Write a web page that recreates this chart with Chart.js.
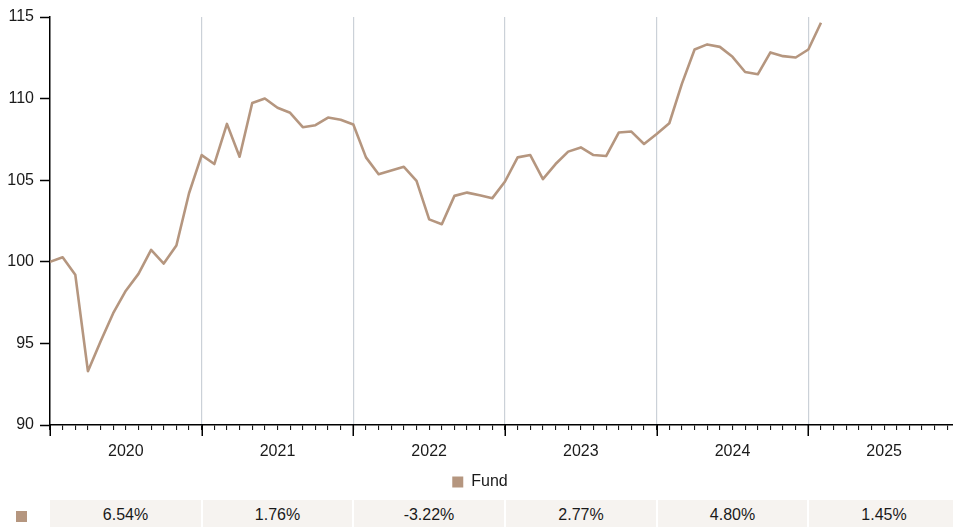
<!DOCTYPE html>
<html><head><meta charset="utf-8">
<script src="https://cdn.jsdelivr.net/npm/chart.js@4"></script>
<style>
html,body{margin:0;padding:0;background:#fff;overflow:hidden;width:953px;height:527px;}
#wrap{position:relative;width:960px;height:527px;overflow:hidden;}
#c{position:absolute;left:0;top:0;}
#tbl{position:absolute;left:0;top:500px;height:30px;width:960px;font-family:"Liberation Sans",Arial,sans-serif;font-size:16px;color:#1a1a1a;}
.cell{position:absolute;top:0;height:30px;line-height:30px;background:#f6f3f0;text-align:center;}
.sw{position:absolute;left:16px;top:11px;width:11px;height:11px;}
</style></head>
<body><div id="wrap"><canvas id="c" width="960" height="500"></canvas><div id="tbl"></div></div>
<script>
const yearLabels = ['2020','2021','2022','2023','2024','2025'];
const annualReturns = ['6.54%','1.76%','-3.22%','2.77%','4.80%','1.45%'];
const seriesName = 'Fund';
const fundValues = [
  100.00,100.28,99.21,93.30,95.11,96.85,98.23,99.26,100.73,99.89,101.00,104.20,
  106.54,105.99,108.45,106.44,109.73,110.01,109.44,109.13,108.25,108.37,108.84,108.70,
  108.41,106.40,105.37,105.60,105.82,104.96,102.60,102.30,104.04,104.24,104.08,103.90,
  104.92,106.40,106.54,105.07,105.99,106.75,107.01,106.54,106.48,107.92,107.98,107.22,
  107.83,108.49,110.92,113.01,113.32,113.17,112.56,111.63,111.49,112.83,112.60,112.52,
  113.01,114.65
];
const yTicks = [90,95,100,105,110,115];
const monthsPerYear = 12;

const LINE = '#b5967f';
const FONT = '"Liberation Sans", Arial, sans-serif';
const totalMonths = yearLabels.length * monthsPerYear;

const majorTicks = {
  id: 'majorTicks',
  afterDraw(chart) {
    const x = chart.scales.x, ctx = chart.ctx, b = chart.chartArea.bottom;
    ctx.save();
    ctx.strokeStyle = '#000';
    ctx.lineWidth = 1.5;
    for (let v = 0; v <= totalMonths; v += monthsPerYear) {
      const px = Math.round(x.getPixelForValue(v)) + 0.25;
      ctx.beginPath();
      ctx.moveTo(px, b);
      ctx.lineTo(px, b + 11);
      ctx.stroke();
    }
    ctx.restore();
  }
};

const chart = new Chart(document.getElementById('c'), {
  type: 'line',
  data: {
    datasets: [{
      label: seriesName,
      data: fundValues.map((v, i) => ({x: i, y: v})),
      borderColor: LINE,
      backgroundColor: LINE,
      borderWidth: 2.6,
      pointRadius: 0,
      tension: 0,
      borderJoinStyle: 'round'
    }]
  },
  options: {
    responsive: false,
    animation: false,
    devicePixelRatio: 1,
    layout: {padding: {top: 17, right: 0, left: 0, bottom: 0}},
    plugins: {
      tooltip: {enabled: false},
      legend: {
        position: 'bottom',
        labels: {
          boxWidth: 11, boxHeight: 11, padding: 14,
          font: {family: FONT, size: 16}, color: '#1a1a1a',
          generateLabels: (ch) => ch.data.datasets.map((d, i) => ({
            text: d.label, fillStyle: d.borderColor, strokeStyle: d.borderColor,
            lineWidth: 0, hidden: false, datasetIndex: i, fontColor: '#1a1a1a'
          }))
        }
      }
    },
    scales: {
      x: {
        type: 'linear', min: 0, max: totalMonths,
        afterBuildTicks: (s) => { s.ticks = Array.from({length: totalMonths + 1}, (_, i) => ({value: i})); },
        afterFit: (s) => { s.height = 35; s.paddingLeft = 0; s.paddingRight = 0; },
        ticks: {
          autoSkip: false, maxRotation: 0, padding: 12,
          font: {family: FONT, size: 16}, color: '#1a1a1a',
          callback: (v) => (v % monthsPerYear === monthsPerYear / 2) ? yearLabels[(v - monthsPerYear / 2) / monthsPerYear] : ''
        },
        grid: {
          drawOnChartArea: true,
          color: (c) => (c.tick && c.tick.value % monthsPerYear === 0 && c.tick.value > 0 && c.tick.value < totalMonths) ? '#cbd1d8' : 'rgba(0,0,0,0)',
          lineWidth: 1.2,
          tickColor: '#000',
          tickWidth: 1,
          tickLength: 5
        },
        border: {color: '#000', width: 1.5}
      },
      y: {
        min: 90, max: 115,
        afterBuildTicks: (s) => { s.ticks = yTicks.map(v => ({value: v})); },
        afterFit: (s) => { s.width = 50; },
        ticks: {font: {family: FONT, size: 16}, color: '#1a1a1a', padding: 6},
        grid: {drawOnChartArea: false, tickColor: '#000', tickLength: 10, tickWidth: 1.5},
        border: {color: '#000', width: 1.5}
      }
    }
  },
  plugins: [majorTicks]
});

// summary table under the chart, aligned with the year boundaries of the x scale
const xs = chart.scales.x;
const tbl = document.getElementById('tbl');
const sw = document.createElement('div');
sw.className = 'sw'; sw.style.background = LINE;
tbl.appendChild(sw);
annualReturns.forEach((r, i) => {
  const l = Math.round(xs.getPixelForValue(i * monthsPerYear)) + (i > 0 ? 1 : 0);
  const rr = Math.round(xs.getPixelForValue((i + 1) * monthsPerYear)) - 1;
  const d = document.createElement('div');
  d.className = 'cell';
  d.style.left = l + 'px';
  d.style.width = (rr - l) + 'px';
  d.textContent = r;
  tbl.appendChild(d);
});
</script>
</body></html>
